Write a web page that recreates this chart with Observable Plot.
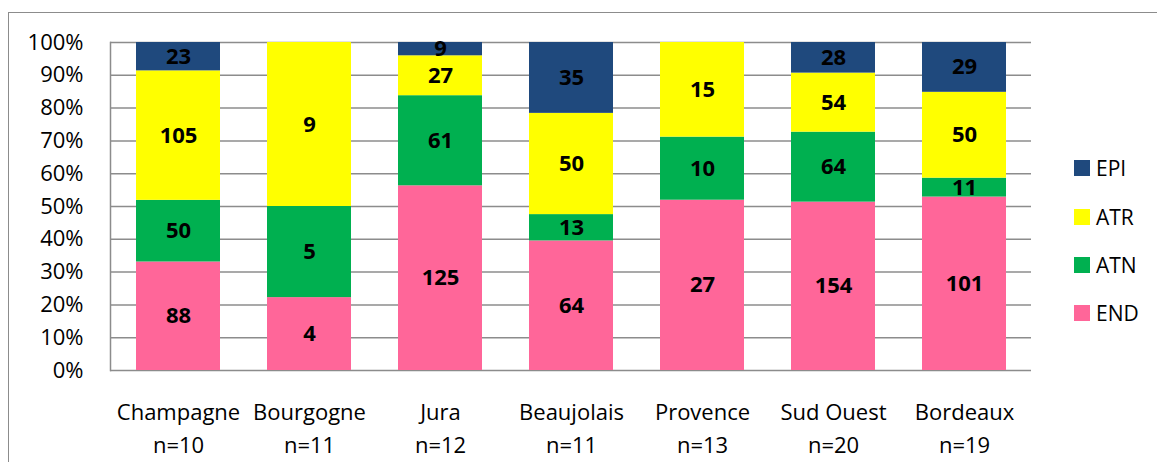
<!DOCTYPE html>
<html>
<head>
<meta charset="utf-8">
<script src="https://cdn.jsdelivr.net/npm/d3@7"></script>
<script src="https://cdn.jsdelivr.net/npm/@observablehq/plot@0.6"></script>
<style>
  html, body { margin: 0; padding: 0; background: #fff; overflow: hidden; }
  #wrap { position: relative; width: 1157px; height: 462px; font-family: "Open Sans", sans-serif; }
  #frame { position: absolute; left: 8px; top: 12px; width: 1200px; height: 500px; border: 1.5px solid #8c8c8c; box-sizing: border-box; }
  #chart { position: absolute; left: 0; top: 0; }
  #legend { position: absolute; left: 1074px; top: 0; }
  .item { position: absolute; left: 0; display: flex; align-items: center; white-space: nowrap; }
  .sw { width: 16px; height: 16px; margin-right: 6px; }
  .lab { font-size: 21px; color: #000; line-height: 1; }
</style>
</head>
<body>
<div id="wrap">
  <div id="frame"></div>
  <div id="chart"></div>
  <div id="legend"></div>
</div>
<script>
const categories = ["Champagne", "Bourgogne", "Jura", "Beaujolais", "Provence", "Sud Ouest", "Bordeaux"];
const nLabels = ["n=10", "n=11", "n=12", "n=11", "n=13", "n=20", "n=19"];
const series = ["END", "ATN", "ATR", "EPI"];
const colors = ["#FF6699", "#00B050", "#FFFF00", "#1F497D"];
const END = [88, 4, 125, 64, 27, 154, 101];
const ATN = [50, 5, 61, 13, 10, 64, 11];
const ATR = [105, 9, 27, 50, 15, 54, 50];
const EPI = [23, 0, 9, 35, 0, 28, 29];
const yTickPercents = [0, 10, 20, 30, 40, 50, 60, 70, 80, 90, 100];

const valuesBySeries = {END, ATN, ATR, EPI};
const rows = [];
series.forEach(s => categories.forEach((c, i) => rows.push({cat: c, series: s, value: valuesBySeries[s][i]})));
const nByCat = Object.fromEntries(categories.map((c, i) => [c, nLabels[i]]));
const yTicks = yTickPercents.map(p => p / 100);

const grey = "#8c8c8c";
const chart = Plot.plot({
  width: 1157,
  height: 462,
  marginLeft: 110,
  marginRight: 126,
  marginTop: 42,
  marginBottom: 92,
  style: {fontFamily: "'Open Sans', sans-serif", fontSize: "22px", color: "#000", background: "transparent"},
  x: {domain: categories, paddingInner: 0.36, paddingOuter: 0.18, label: null},
  y: {domain: [0, 1], label: null},
  color: {domain: series, range: colors},
  marks: [
    Plot.ruleY(yTicks, {stroke: grey, strokeWidth: 1.5}),
    Plot.frame({anchor: "left", stroke: grey, strokeWidth: 1.5}),
    Plot.barY(rows, Plot.stackY({offset: "normalize", order: series}, {x: "cat", y: "value", fill: "series"})),
    Plot.text(rows.filter(d => d.value > 0), Plot.stackY({offset: "normalize", order: series}, {
      x: "cat", y: "value", z: "series", text: d => String(d.value),
      fontWeight: "bold", fontSize: 22, fill: "#000"
    })),
    Plot.axisY({ticks: yTicks, tickSize: 0, tickPadding: 27, tickFormat: d => Math.round(d * 100) + "%", fontSize: 22, label: null}),
    Plot.axisX({tickSize: 0, tickPadding: 26, fontSize: 22, lineHeight: 1.5, tickFormat: d => d + "\n" + nByCat[d], label: null})
  ]
});
document.getElementById("chart").appendChild(chart);

const legend = document.getElementById("legend");
const centers = {EPI: 168, ATR: 217, ATN: 265, END: 313};
series.slice().reverse().forEach(s => {
  const item = document.createElement("div");
  item.className = "item";
  item.style.top = (centers[s] - 15) + "px";
  item.style.height = "30px";
  const sw = document.createElement("div");
  sw.className = "sw";
  sw.style.background = colors[series.indexOf(s)];
  const lab = document.createElement("span");
  lab.className = "lab";
  lab.textContent = s;
  item.appendChild(sw);
  item.appendChild(lab);
  legend.appendChild(item);
});
</script>
</body>
</html>
